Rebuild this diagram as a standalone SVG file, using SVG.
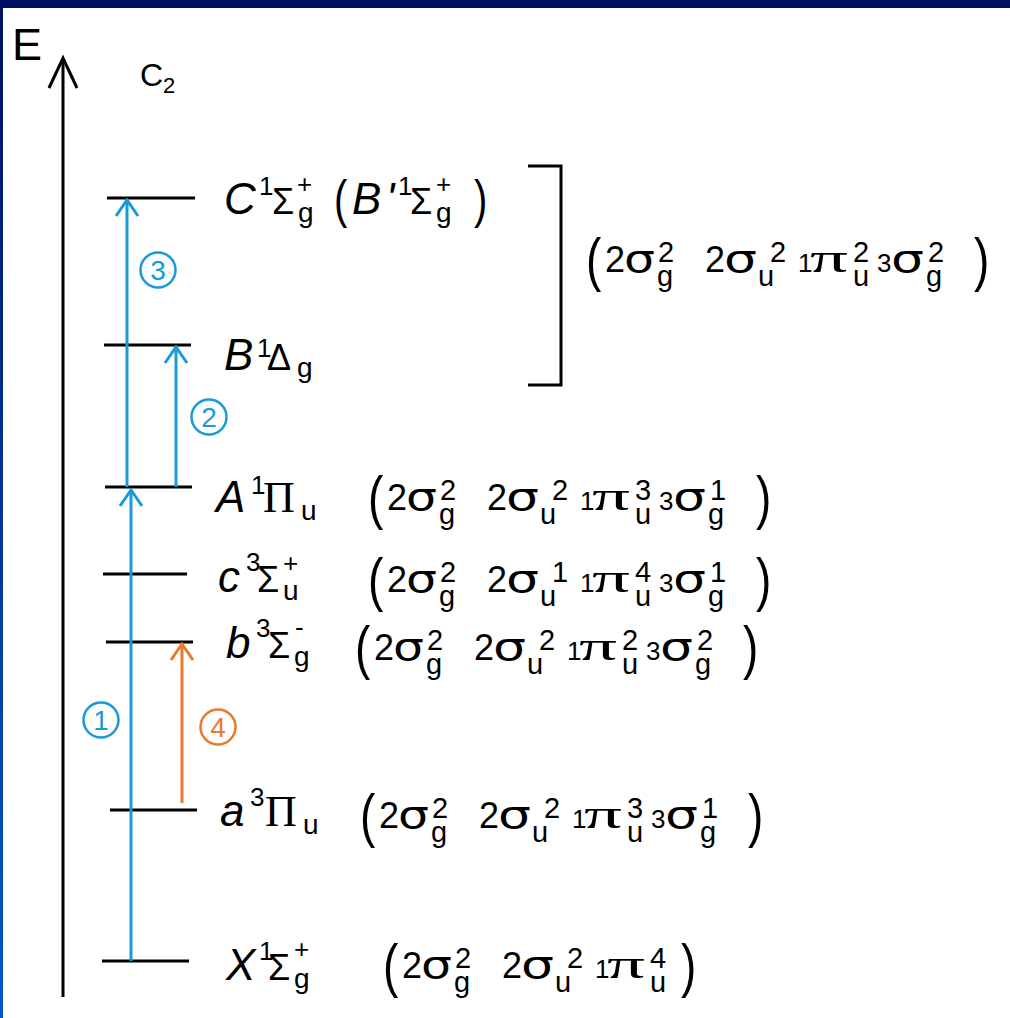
<svg xmlns="http://www.w3.org/2000/svg" width="1010" height="1018" viewBox="0 0 1010 1018">
<defs>
<linearGradient id="lb" x1="0" y1="0" x2="0" y2="1"><stop offset="0" stop-color="#001060"/><stop offset="1" stop-color="#0058c8"/></linearGradient>
<marker id="hb" viewBox="-18 -14 20 28" refX="0" refY="0" markerWidth="20" markerHeight="28" markerUnits="userSpaceOnUse" orient="auto"><path d="M-16,-11 L0,0 L-16,11" fill="none" stroke="#1a9ad6" stroke-width="3"/></marker>
<marker id="ho" viewBox="-18 -14 20 28" refX="0" refY="0" markerWidth="20" markerHeight="28" markerUnits="userSpaceOnUse" orient="auto"><path d="M-16,-11 L0,0 L-16,11" fill="none" stroke="#e87a30" stroke-width="3"/></marker>
</defs>
<style>
.lv{stroke:#000;stroke-width:3}
.t{font-family:"Liberation Sans",Arial,sans-serif;fill:#000}
.sg{font-family:"DejaVu Sans",sans-serif;font-size:38px}
.pi{font-family:"Liberation Serif",serif;font-size:41px}
.P{font-family:"Liberation Serif",serif;font-size:44px}
.L{font-style:italic;font-size:44px}
.G{font-size:36px}
.sp{font-size:26px}
.sb{font-size:28px}
.par{font-size:46px}
.lp{font-size:40px}
.d{font-size:36px}
.cs{font-size:29px}
.sm{font-size:26px}
.bl{stroke:#1a9ad6;stroke-width:3;fill:none}
.or{stroke:#e87a30;stroke-width:3;fill:none}
.cb{fill:none;stroke:#1a9ad6;stroke-width:2.5}
.co{fill:none;stroke:#e87a30;stroke-width:2.5}
.nb{font-family:"Liberation Sans",Arial,sans-serif;font-size:28px;fill:#1a9ad6;text-anchor:middle}
.no{font-family:"Liberation Sans",Arial,sans-serif;font-size:28px;fill:#e87a30;text-anchor:middle}
</style>
<rect x="0" y="0" width="1010" height="1018" fill="#fff"/>
<rect x="0" y="0" width="1010" height="8" fill="#001060"/>
<rect x="0" y="0" width="3" height="1018" fill="url(#lb)"/>

<g id="axis">
<line x1="63" y1="997" x2="63" y2="60" stroke="#000" stroke-width="3"/>
<path d="M49,88 L63,58 L77,88" fill="none" stroke="#000" stroke-width="3"/>
<text class="t" x="12" y="60" font-size="45">E</text>
<text class="t" x="140" y="86" font-size="32">C</text>
<text class="t" x="163" y="93" font-size="22">2</text>
</g>

<g id="level-C">
<line class="lv" x1="107" y1="198" x2="195" y2="198"/>
<text class="t L" x="224" y="214">C</text>
<text class="t sp" x="259" y="195">1</text>
<text class="t G" x="272" y="214">Σ</text>
<text class="t sp" x="297" y="193">+</text>
<text class="t sb" x="298" y="222">g</text>
<text class="t lp" transform="translate(334,217) scale(1,1.3)">(</text>
<text class="t L" x="352" y="214">B</text>
<text class="t L" x="386" y="214">'</text>
<text class="t sp" x="398" y="195">1</text>
<text class="t G" x="410" y="214">Σ</text>
<text class="t sp" x="436" y="193">+</text>
<text class="t sb" x="436" y="222">g</text>
<text class="t lp" transform="translate(474,217) scale(1,1.3)">)</text>
</g>

<g id="level-B">
<line class="lv" x1="104" y1="345" x2="191" y2="345"/>
<text class="t L" x="224" y="370">B</text>
<text class="t sp" x="257" y="357">1</text>
<text class="t G" x="267" y="370">Δ</text>
<text class="t sb" x="297" y="377">g</text>
</g>

<g id="bracket">
<path d="M528,166 H561 V385 H528" fill="none" stroke="#000" stroke-width="3"/>
<g transform="translate(588,272)">
<text class="t par" transform="translate(-2,8) scale(1,1.3)">(</text>
<text class="t d" x="17">2</text>
<text class="t sg" x="36" textLength="31" lengthAdjust="spacingAndGlyphs">σ</text>
<text class="t cs" x="70" y="-10">2</text>
<text class="t cs" x="69" y="14">g</text>
<text class="t d" x="117">2</text>
<text class="t sg" x="136" textLength="33" lengthAdjust="spacingAndGlyphs">σ</text>
<text class="t cs" x="170" y="14">u</text>
<text class="t cs" x="182" y="-10">2</text>
<text class="t sm" x="210">1</text>
<text class="t pi" x="222" textLength="38" lengthAdjust="spacingAndGlyphs">π</text>
<text class="t cs" x="265" y="-10">2</text>
<text class="t cs" x="265" y="14">u</text>
<text class="t sm" x="289">3</text>
<text class="t sg" x="303" textLength="33" lengthAdjust="spacingAndGlyphs">σ</text>
<text class="t cs" x="340" y="-10">2</text>
<text class="t cs" x="338" y="14">g</text>
<text class="t par" transform="translate(386,8) scale(1,1.3)">)</text>
</g>
</g>

<g id="level-A">
<line class="lv" x1="105" y1="487" x2="192" y2="487"/>
<text class="t L" x="216" y="512">A</text>
<text class="t sp" x="251" y="494">1</text>
<text class="t P" x="263" y="512">Π</text>
<text class="t sb" x="301" y="520">u</text>
<g transform="translate(370,510)">
<text class="t par" transform="translate(-2,8) scale(1,1.3)">(</text>
<text class="t d" x="17">2</text>
<text class="t sg" x="36" textLength="31" lengthAdjust="spacingAndGlyphs">σ</text>
<text class="t cs" x="70" y="-10">2</text>
<text class="t cs" x="69" y="14">g</text>
<text class="t d" x="117">2</text>
<text class="t sg" x="136" textLength="33" lengthAdjust="spacingAndGlyphs">σ</text>
<text class="t cs" x="170" y="14">u</text>
<text class="t cs" x="182" y="-10">2</text>
<text class="t sm" x="210">1</text>
<text class="t pi" x="222" textLength="38" lengthAdjust="spacingAndGlyphs">π</text>
<text class="t cs" x="265" y="-10">3</text>
<text class="t cs" x="265" y="14">u</text>
<text class="t sm" x="289">3</text>
<text class="t sg" x="303" textLength="33" lengthAdjust="spacingAndGlyphs">σ</text>
<text class="t cs" x="340" y="-10">1</text>
<text class="t cs" x="338" y="14">g</text>
<text class="t par" transform="translate(386,8) scale(1,1.3)">)</text>
</g>
</g>

<g id="level-c">
<line class="lv" x1="103" y1="574" x2="187" y2="574"/>
<text class="t L" x="218" y="592">c</text>
<text class="t sp" x="246" y="571">3</text>
<text class="t G" x="257" y="592">Σ</text>
<text class="t sp" x="283" y="572">+</text>
<text class="t sb" x="283" y="600">u</text>
<g transform="translate(370,592)">
<text class="t par" transform="translate(-2,8) scale(1,1.3)">(</text>
<text class="t d" x="17">2</text>
<text class="t sg" x="36" textLength="31" lengthAdjust="spacingAndGlyphs">σ</text>
<text class="t cs" x="70" y="-10">2</text>
<text class="t cs" x="69" y="14">g</text>
<text class="t d" x="117">2</text>
<text class="t sg" x="136" textLength="33" lengthAdjust="spacingAndGlyphs">σ</text>
<text class="t cs" x="170" y="14">u</text>
<text class="t cs" x="182" y="-10">1</text>
<text class="t sm" x="210">1</text>
<text class="t pi" x="222" textLength="38" lengthAdjust="spacingAndGlyphs">π</text>
<text class="t cs" x="265" y="-10">4</text>
<text class="t cs" x="265" y="14">u</text>
<text class="t sm" x="289">3</text>
<text class="t sg" x="303" textLength="33" lengthAdjust="spacingAndGlyphs">σ</text>
<text class="t cs" x="340" y="-10">1</text>
<text class="t cs" x="338" y="14">g</text>
<text class="t par" transform="translate(386,8) scale(1,1.3)">)</text>
</g>
</g>

<g id="level-b">
<line class="lv" x1="106" y1="642" x2="193" y2="642"/>
<text class="t L" x="226" y="658">b</text>
<text class="t sp" x="256" y="637">3</text>
<text class="t G" x="268" y="658">Σ</text>
<text class="t sp" x="295" y="636">-</text>
<text class="t sb" x="294" y="666">g</text>
<g transform="translate(357,660)">
<text class="t par" transform="translate(-2,8) scale(1,1.3)">(</text>
<text class="t d" x="17">2</text>
<text class="t sg" x="36" textLength="31" lengthAdjust="spacingAndGlyphs">σ</text>
<text class="t cs" x="70" y="-10">2</text>
<text class="t cs" x="69" y="14">g</text>
<text class="t d" x="117">2</text>
<text class="t sg" x="136" textLength="33" lengthAdjust="spacingAndGlyphs">σ</text>
<text class="t cs" x="170" y="14">u</text>
<text class="t cs" x="182" y="-10">2</text>
<text class="t sm" x="210">1</text>
<text class="t pi" x="222" textLength="38" lengthAdjust="spacingAndGlyphs">π</text>
<text class="t cs" x="265" y="-10">2</text>
<text class="t cs" x="265" y="14">u</text>
<text class="t sm" x="289">3</text>
<text class="t sg" x="303" textLength="33" lengthAdjust="spacingAndGlyphs">σ</text>
<text class="t cs" x="340" y="-10">2</text>
<text class="t cs" x="338" y="14">g</text>
<text class="t par" transform="translate(386,8) scale(1,1.3)">)</text>
</g>
</g>

<g id="level-a">
<line class="lv" x1="110" y1="810" x2="197" y2="810"/>
<text class="t L" x="220" y="826">a</text>
<text class="t sp" x="250" y="806">3</text>
<text class="t P" x="265" y="826">Π</text>
<text class="t sb" x="303" y="834">u</text>
<g transform="translate(362,828)">
<text class="t par" transform="translate(-2,8) scale(1,1.3)">(</text>
<text class="t d" x="17">2</text>
<text class="t sg" x="36" textLength="31" lengthAdjust="spacingAndGlyphs">σ</text>
<text class="t cs" x="70" y="-10">2</text>
<text class="t cs" x="69" y="14">g</text>
<text class="t d" x="117">2</text>
<text class="t sg" x="136" textLength="33" lengthAdjust="spacingAndGlyphs">σ</text>
<text class="t cs" x="170" y="14">u</text>
<text class="t cs" x="182" y="-10">2</text>
<text class="t sm" x="210">1</text>
<text class="t pi" x="222" textLength="38" lengthAdjust="spacingAndGlyphs">π</text>
<text class="t cs" x="265" y="-10">3</text>
<text class="t cs" x="265" y="14">u</text>
<text class="t sm" x="289">3</text>
<text class="t sg" x="303" textLength="33" lengthAdjust="spacingAndGlyphs">σ</text>
<text class="t cs" x="340" y="-10">1</text>
<text class="t cs" x="338" y="14">g</text>
<text class="t par" transform="translate(386,8) scale(1,1.3)">)</text>
</g>
</g>

<g id="level-X">
<line class="lv" x1="102" y1="961" x2="189" y2="961"/>
<text class="t L" x="226" y="980">X</text>
<text class="t sp" x="259" y="960">1</text>
<text class="t G" x="268" y="980">Σ</text>
<text class="t sp" x="294" y="958">+</text>
<text class="t sb" x="294" y="988">g</text>
<g transform="translate(385,978)">
<text class="t par" transform="translate(-2,8) scale(1,1.3)">(</text>
<text class="t d" x="17">2</text>
<text class="t sg" x="36" textLength="31" lengthAdjust="spacingAndGlyphs">σ</text>
<text class="t cs" x="70" y="-10">2</text>
<text class="t cs" x="69" y="14">g</text>
<text class="t d" x="117">2</text>
<text class="t sg" x="136" textLength="33" lengthAdjust="spacingAndGlyphs">σ</text>
<text class="t cs" x="170" y="14">u</text>
<text class="t cs" x="182" y="-10">2</text>
<text class="t sm" x="210">1</text>
<text class="t pi" x="222" textLength="38" lengthAdjust="spacingAndGlyphs">π</text>
<text class="t cs" x="265" y="-10">4</text>
<text class="t cs" x="265" y="14">u</text>
<text class="t par" transform="translate(296,8) scale(1,1.3)">)</text>
</g>
</g>

<g id="connectors">
<line class="bl" x1="131" y1="961" x2="131" y2="490" marker-end="url(#hb)"/>
<line class="bl" x1="127" y1="487" x2="127" y2="200" marker-end="url(#hb)"/>
<line class="bl" x1="176" y1="487" x2="176" y2="347" marker-end="url(#hb)"/>
<line class="or" x1="182" y1="803" x2="182" y2="644" marker-end="url(#ho)"/>
<circle class="cb" cx="158" cy="270" r="17.5"/><text class="nb" x="158" y="280">3</text>
<circle class="cb" cx="209" cy="417" r="17.5"/><text class="nb" x="209" y="427">2</text>
<circle class="cb" cx="101" cy="720" r="17.5"/><text class="nb" x="101" y="730">1</text>
<circle class="co" cx="218" cy="727" r="17.5"/><text class="no" x="218" y="737">4</text>
</g>
</svg>
